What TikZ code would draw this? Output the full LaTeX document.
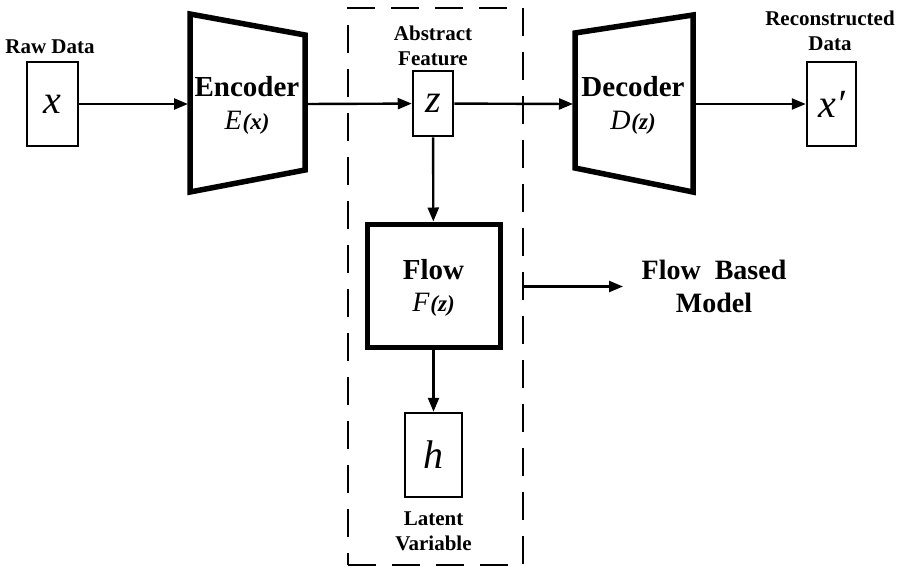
\documentclass[tikz,border=0pt]{standalone}
\usepackage{fontspec}
\setmainfont{Liberation Serif}
\usetikzlibrary{arrows.meta}
\begin{document}
\begin{tikzpicture}[x=1pt,y=-1pt,
  varbox/.style={draw, line width=2.5pt, inner sep=0pt,
    font=\fontsize{40}{40}\selectfont\itshape},
  flowbox/.style={draw, line width=5pt, inner sep=0pt, align=center},
  grpbox/.style={draw, line width=2.2pt, dash pattern=on 28pt off 16pt, inner sep=0pt},
  coder/.style={line width=5.5pt, line join=miter},
  lbl/.style={font=\fontsize{21}{25}\selectfont\bfseries, align=center},
  title/.style={font=\fontsize{29}{30}\selectfont\bfseries},
  fn/.style={font=\fontsize{28}{28}\selectfont\itshape},
  arr/.style={-{Triangle[length=14pt,width=11pt]}, line width=2.4pt}]
\useasboundingbox (0,0) rectangle (902,571);

% dashed group around the flow part
\node[grpbox, minimum width=175pt, minimum height=557pt] (grp) at (435.5,286.5) {};

% input / feature / output boxes
\node[varbox, minimum width=51pt, minimum height=84pt] (xin) at (52.5,104) {x};
\node[varbox, minimum width=40pt, minimum height=65pt] (z) at (433,103.5) {z};
\node[varbox, minimum width=49pt, minimum height=84pt] (xout) at (831.5,104) {x′};
\node[varbox, minimum width=57pt, minimum height=84pt] (h) at (433.5,455) {h};

% flow block
\node[flowbox, minimum width=133pt, minimum height=123pt] (flow) at (433.5,285.5) {};
\node[title] (flowt) at (433.5,270) {Flow};
\node[fn] (flowf) at (433.5,305) {F\kern1pt{\fontsize{23}{23}\selectfont\bfseries\itshape(z)}};

% encoder and decoder trapezoids
\draw[coder] (190,14) -- (305,35) -- (305,170) -- (190,192) -- cycle;
\draw[coder] (575,33) -- (693,15) -- (693,192) -- (575,168) -- cycle;
\coordinate (encin) at (188,104);
\coordinate (encout) at (305,104);
\coordinate (decin) at (573,104);
\coordinate (decout) at (693,104);
\node[title] (enct) at (247,87) {Encoder};
\node[fn] (encf) at (247,123) {E\kern1pt{\fontsize{23}{23}\selectfont\bfseries\itshape(x)}};
\node[title] (dect) at (633,87) {Decoder};
\node[fn] (decf) at (633,123) {D\kern1pt{\fontsize{23}{23}\selectfont\bfseries\itshape(z)}};

% labels
\node[lbl] (rawlbl) at (50,47) {Raw Data};
\node[lbl] (abslbl) at (433,46) {Abstract\\Feature};
\node[lbl] (reclbl) at (830,31) {Reconstructed\\Data};
\node[lbl] (latlbl) at (433.5,531) {Latent\\Variable};
\node[font=\fontsize{28}{33}\selectfont\bfseries, align=center] (fbm) at (714,286) {Flow\ \ Based\\Model};
\coordinate (fbmin) at (623,286.5);

% connectors
\draw[arr] (xin) -- (encin);
\draw[arr] (encout) -- (z);
\draw[arr] (z) -- (decin);
\draw[arr] (decout) -- (xout);
\draw[arr] (z) -- (flow);
\draw[arr] (flow) -- (h);
\draw[arr] (grp.east) -- (fbmin);
\end{tikzpicture}
\end{document}
